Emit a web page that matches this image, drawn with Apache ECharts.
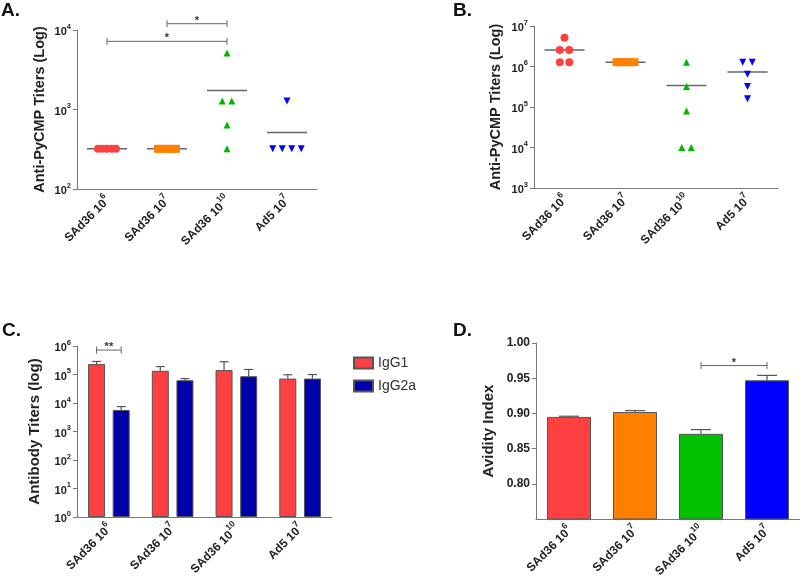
<!DOCTYPE html>
<html lang="en">
<head>
<meta charset="UTF-8">
<title>PyCMP antibody responses</title>
<script src="https://cdn.jsdelivr.net/npm/echarts@6/dist/echarts.min.js"></script>
<style>
    html, body { margin: 0; background: #fff; }
    #main { width: 800px; height: 587px; }
</style>
</head>
<body>
<div id="main"></div>
<script>
// groups shared by every panel (name + dose exponent)
var groupNames = ['SAd36', 'SAd36', 'SAd36', 'Ad5'];
var groupDoses = [6, 7, 10, 7];
var categories = ['SAd36 10^6', 'SAd36 10^7', 'SAd36 10^10', 'Ad5 10^7'];

// A: anti-PyCMP titers per mouse
var titersA = [
    [320, 320, 320, 320, 320],
    [320, 320, 320, 320, 320],
    [5120, 1280, 1280, 640, 320],
    [1280, 320, 320, 320, 320]
];
// B: anti-PyCMP titers per mouse
var titersB = [
    [5120000, 2560000, 2560000, 1280000, 1280000],
    [1280000, 1280000, 1280000, 1280000, 1280000],
    [1280000, 320000, 80000, 10000, 10000],
    [1280000, 1280000, 640000, 320000, 160000]
];
// C: IgG subclass titers (mean, sem)
var igg1Mean = [232000, 135000, 143000, 72000];
var igg1Sem = [55000, 55000, 137000, 26000];
var igg2aMean = [5700, 63000, 87000, 72000];
var igg2aSem = [1800, 9000, 63000, 28000];
// D: avidity index (mean, sem)
var avidity = [0.895, 0.902, 0.871, 0.947];
var aviditySem = [0.001, 0.002, 0.006, 0.007];

// significance brackets: [fromGroup, toGroup, y, label]
var bracketsA = [[0, 2, 7200, '*'], [1, 2, 12000, '*']];
var bracketsC = [[0, 0, 720000, '**']];
var bracketsD = [[2, 3, 0.968, '*']];

var groupColors = ['#ff4040', '#ff8000', '#00b800', '#0000ff'];
var barColorsD = ['#ff4040', '#ff8000', '#00c000', '#0000ff'];
var symbols = ['circle', 'rect', 'triangle', 'triangle'];
var symbolSizes = [8, 8, 7, 7];
var font = 'Arial, "Liberation Sans", sans-serif';
var axisColor = '#777';

var myChart = echarts.init(document.getElementById('main'));

function sup(base, exp) {
    return '{b|' + base + '}{s|' + exp + '}';
}
function richFor(size) {
    return {
        b: {fontSize: size, fontWeight: 'bold', color: '#222', fontFamily: font, lineHeight: size + 4, verticalAlign: 'bottom'},
        s: {fontSize: size - 3.5, fontWeight: 'bold', color: '#222', fontFamily: font, verticalAlign: 'top'}
    };
}

function catAxis(gi) {
    return {
        type: 'category', gridIndex: gi, data: categories, boundaryGap: true,
        axisLine: {lineStyle: {color: axisColor, width: 1}},
        axisTick: {alignWithLabel: true, length: 4, lineStyle: {color: axisColor}},
        axisLabel: {
            rotate: 45, margin: 8, interval: 0, rich: richFor(12),
            formatter: function (v, i) { return sup(groupNames[i] + ' 10', groupDoses[i]); }
        },
        splitLine: {show: false}
    };
}

function yName(name, gap, size) {
    return {
        name: name, nameLocation: 'middle', nameGap: gap,
        nameTextStyle: {fontSize: size, fontWeight: 'bold', color: '#222', fontFamily: font}
    };
}

function logAxis(gi, min, max, name, gap, size) {
    return Object.assign({
        type: 'log', logBase: 10, gridIndex: gi, min: min, max: max,
        axisLine: {show: true, lineStyle: {color: axisColor}},
        axisTick: {show: true, length: 4, lineStyle: {color: axisColor}},
        minorTick: {show: false}, splitLine: {show: false},
        axisLabel: {
            margin: 6, rich: richFor(11),
            formatter: function (v) { return sup('10', Math.round(Math.log10(v))); }
        }
    }, yName(name, gap, size));
}

// spread equal values sideways, squeeze when the pile gets wide
function jitter(vals) {
    var count = {}, used = {}, out = [];
    vals.forEach(function (v) { count[v] = (count[v] || 0) + 1; });
    vals.forEach(function (v) {
        var n = count[v];
        var k = used[v] = (used[v] === undefined ? 0 : used[v] + 1);
        var step = n > 4 ? 4.5 : 9.5;
        out.push((k - (n - 1) / 2) * step);
    });
    return out;
}

function scatterSeries(gi, groups) {
    return groups.map(function (vals, g) {
        var offs = jitter(vals);
        return {
            type: 'scatter', xAxisIndex: gi, yAxisIndex: gi, z: 3,
            symbol: symbols[g], symbolSize: symbolSizes[g], symbolRotate: g === 3 ? 180 : 0,
            itemStyle: {color: groupColors[g], opacity: 1},
            data: vals.map(function (v, k) {
                return {value: [g, v], symbolOffset: [offs[k], 0]};
            })
        };
    });
}

function meanSeries(gi, groups) {
    return {
        type: 'custom', xAxisIndex: gi, yAxisIndex: gi, z: 2,
        data: groups.map(function (vals, g) {
            return [g, vals.reduce(function (a, b) { return a + b; }, 0) / vals.length];
        }),
        renderItem: function (params, api) {
            var p = api.coord([api.value(0), api.value(1)]);
            return {
                type: 'line',
                shape: {x1: p[0] - 20, y1: p[1], x2: p[0] + 20, y2: p[1]},
                style: {stroke: '#666', lineWidth: 1.5}
            };
        }
    };
}

function bracketSeries(gi, rows, dxFrom, dxTo) {
    return {
        type: 'custom', xAxisIndex: gi, yAxisIndex: gi, z: 5, clip: false,
        encode: {x: [0, 1], y: 2},
        data: rows.map(function (r) { return [r[0], r[1], r[2]]; }),
        renderItem: function (params, api) {
            var a = api.coord([api.value(0), api.value(2)]);
            var b = api.coord([api.value(1), api.value(2)]);
            var x1 = a[0] + dxFrom, x2 = b[0] + dxTo, y = a[1];
            var st = {stroke: '#666', lineWidth: 1};
            return {
                type: 'group', children: [
                    {type: 'line', shape: {x1: x1, y1: y, x2: x2, y2: y}, style: st},
                    {type: 'line', shape: {x1: x1, y1: y - 3.5, x2: x1, y2: y + 3.5}, style: st},
                    {type: 'line', shape: {x1: x2, y1: y - 3.5, x2: x2, y2: y + 3.5}, style: st},
                    {
                        type: 'text', x: (x1 + x2) / 2, y: y - 3,
                        style: {
                            text: rows[params.dataIndex][3], align: 'center', verticalAlign: 'middle',
                            fontSize: 11, fontWeight: 'bold', fontFamily: font, fill: '#333'
                        }
                    }
                ]
            };
        }
    };
}

function errorSeries(gi, means, sems, dx, capW) {
    return {
        type: 'custom', xAxisIndex: gi, yAxisIndex: gi, z: 4,
        encode: {x: 0, y: [1, 2]},
        data: means.map(function (m, g) { return [g, m, m + sems[g]]; }),
        renderItem: function (params, api) {
            var p = api.coord([api.value(0), api.value(1)]);
            var q = api.coord([api.value(0), api.value(2)]);
            var x = p[0] + dx;
            var st = {stroke: '#555', lineWidth: 1.2};
            return {
                type: 'group', children: [
                    {type: 'line', shape: {x1: x, y1: p[1], x2: x, y2: q[1]}, style: st},
                    {type: 'line', shape: {x1: x - capW / 2, y1: q[1], x2: x + capW / 2, y2: q[1]}, style: st}
                ]
            };
        }
    };
}

var barW = 17, barGapPct = 45;
var barShift = barW * (1 + barGapPct / 100) / 2;

var series = []
    .concat([meanSeries(0, titersA)], scatterSeries(0, titersA), [bracketSeries(0, bracketsA, 0, 0)])
    .concat([meanSeries(1, titersB)], scatterSeries(1, titersB))
    .concat([
        {
            name: 'IgG1', type: 'bar', xAxisIndex: 2, yAxisIndex: 2, z: 3,
            barWidth: barW, barGap: barGapPct + '%', data: igg1Mean,
            itemStyle: {color: '#ff4040', borderColor: '#555', borderWidth: 1}
        },
        {
            name: 'IgG2a', type: 'bar', xAxisIndex: 2, yAxisIndex: 2, z: 3,
            barWidth: barW, data: igg2aMean,
            itemStyle: {color: '#0000aa', borderColor: '#555', borderWidth: 1}
        },
        errorSeries(2, igg1Mean, igg1Sem, -barShift, 9),
        errorSeries(2, igg2aMean, igg2aSem, barShift, 9),
        bracketSeries(2, bracketsC, -barShift, barShift)
    ])
    .concat([
        {
            type: 'bar', xAxisIndex: 3, yAxisIndex: 3, z: 3, barWidth: 44, clip: true,
            data: avidity.map(function (v, g) {
                return {value: v, itemStyle: {color: barColorsD[g]}};
            }),
            itemStyle: {borderColor: '#555', borderWidth: 1}
        },
        errorSeries(3, avidity, aviditySem, 0, 20),
        bracketSeries(3, bracketsD, 0, 0)
    ]);

function panelLetter(txt, x, y) {
    return {
        type: 'text', left: x, top: y,
        style: {text: txt, fontSize: 19, fontWeight: 'bold', fontFamily: font, fill: '#111'}
    };
}

option = {
    animation: false,
    textStyle: {fontFamily: font},
    grid: [
        {left: 77, top: 30, width: 240, height: 159},
        {left: 534, top: 26, width: 244, height: 162},
        {left: 77, top: 346, width: 255, height: 171},
        {left: 536, top: 343, width: 264, height: 176}
    ],
    xAxis: [catAxis(0), catAxis(1), catAxis(2), catAxis(3)],
    yAxis: [
        logAxis(0, 100, 10000, 'Anti-PyCMP Titers (Log)', 30, 14.5),
        logAxis(1, 1000, 10000000, 'Anti-PyCMP Titers (Log)', 31, 14.5),
        logAxis(2, 1, 1000000, 'Antibody Titers (log)', 35, 15),
        Object.assign({
            type: 'value', gridIndex: 3, min: 0.75, max: 1.0, interval: 0.05,
            axisLine: {show: true, lineStyle: {color: axisColor}},
            axisTick: {show: true, length: 4, lineStyle: {color: axisColor}},
            splitLine: {show: false},
            axisLabel: {
                margin: 6, showMinLabel: false, fontSize: 12, fontWeight: 'bold', color: '#222',
                formatter: function (v) { return v.toFixed(2); }
            }
        }, yName('Avidity Index', 40, 15))
    ],
    legend: {
        data: ['IgG1', 'IgG2a'], orient: 'vertical', left: 348, top: 351,
        icon: 'rect', itemWidth: 19, itemHeight: 11, itemGap: 9,
        textStyle: {fontSize: 14, color: '#333', fontFamily: font}
    },
    graphic: [
        panelLetter('A.', 1, 1),
        panelLetter('B.', 453, 1),
        panelLetter('C.', 2, 321),
        panelLetter('D.', 453, 321)
    ],
    series: series
};

myChart.setOption(option);
</script>
</body>
</html>
